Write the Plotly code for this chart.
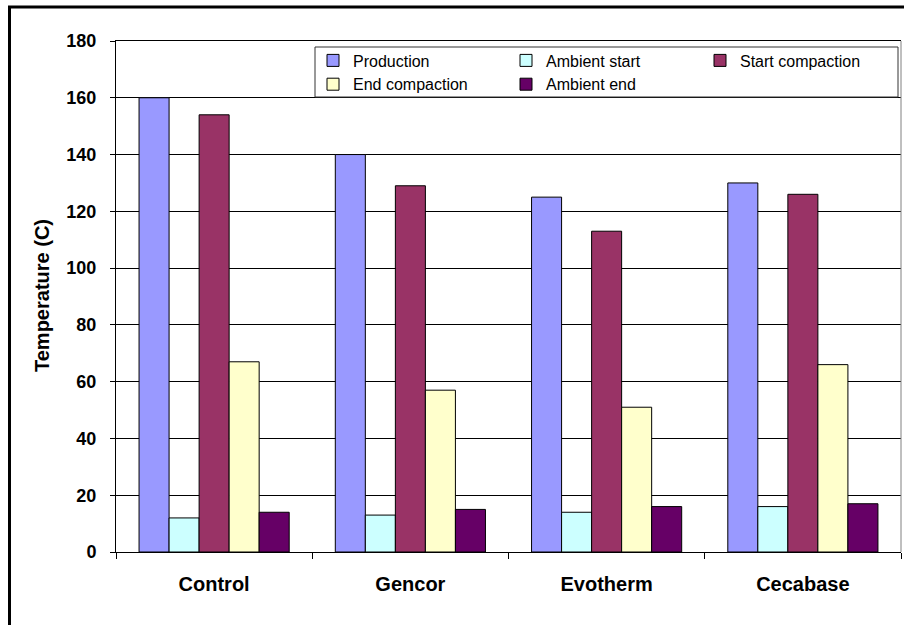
import plotly.graph_objects as go

categories = ["Control", "Gencor", "Evotherm", "Cecabase"]
series_names = ["Production", "Ambient start", "Start compaction", "End compaction", "Ambient end"]
production = [160, 140, 125, 130]
ambient_start = [12, 13, 14, 16]
start_compaction = [154, 129, 113, 126]
end_compaction = [67, 57, 51, 66]
ambient_end = [14, 15, 16, 17]
y_ticks = [0, 20, 40, 60, 80, 100, 120, 140, 160, 180]

series_values = [production, ambient_start, start_compaction, end_compaction, ambient_end]
colors = ["#9999FF", "#CCFFFF", "#993366", "#FFFFCC", "#660066"]
legend_ids = ["legend", "legend2", "legend3", "legend", "legend2"]

FONT = "Arial, Liberation Sans, sans-serif"

W, H = 904, 625
L, R, T, B = 116, 3, 41, 73
pw = W - L - R
ph = H - T - B


def px_x(p):
    return (p - L) / pw


def px_y(p):
    return 1 - (p - T) / ph


fig = go.Figure()
for name, vals, col, lg in zip(series_names, series_values, colors, legend_ids):
    fig.add_trace(go.Bar(
        x=categories, y=vals, name=name, legend=lg, legendgroup=name,
        marker=dict(color=col, line=dict(color="black", width=1)),
    ))

legend_font = dict(family=FONT, size=16, color="black")


def make_legend(px_left):
    return dict(
        orientation="v",
        x=px_x(px_left), xanchor="left",
        y=px_y(43.5), yanchor="top",
        borderwidth=0, bgcolor="rgba(0,0,0,0)",
        font=legend_font, itemwidth=30,
        tracegroupgap=8, traceorder="normal",
    )


fig.update_layout(
    width=W, height=H,
    margin=dict(l=L, r=R, t=T, b=B),
    paper_bgcolor="white", plot_bgcolor="white",
    barmode="group", bargap=0.235, bargroupgap=0,
    font=dict(family=FONT, color="black"),
    showlegend=True,
    legend=make_legend(313),
    legend2=make_legend(506),
    legend3=make_legend(700),
    xaxis=dict(
        type="category",
        showline=True, linecolor="black", linewidth=1, mirror=True,
        ticks="outside", ticklen=6, tickcolor="black", tickson="boundaries",
        showgrid=False,
        tickfont=dict(family=FONT, size=20, color="black", weight="bold"),
        ticklabelstandoff=14,
    ),
    yaxis=dict(
        range=[0, 180], tickvals=y_ticks,
        showline=True, linecolor="black", linewidth=1,
        ticks="outside", ticklen=5, tickcolor="black",
        showgrid=True, gridcolor="black", gridwidth=1,
        zeroline=False,
        tickfont=dict(family=FONT, size=18, color="black", weight="bold"),
        ticklabelstandoff=10,
    ),
    annotations=[dict(
        text="<b>Temperature (C)</b>", textangle=-90,
        xref="paper", yref="paper", x=px_x(42), y=px_y(296),
        showarrow=False, xanchor="center", yanchor="middle",
        font=dict(family=FONT, size=20, color="black"),
    )],
    shapes=[
        dict(type="line", xref="paper", yref="paper", x0=1, x1=1, y0=0, y1=1,
             line=dict(color="#808080", width=1)),
        dict(type="rect", xref="paper", yref="paper",
             x0=px_x(315), x1=px_x(898), y0=px_y(97), y1=px_y(47),
             line=dict(color="#333333", width=1), fillcolor="white", layer="above"),
        dict(type="rect", xref="paper", yref="paper",
             x0=px_x(9.5), x1=px_x(915), y0=px_y(640), y1=px_y(7),
             line=dict(color="black", width=3), fillcolor="rgba(0,0,0,0)", layer="above"),
    ],
)

fig.write_html("out.html", config={"displayModeBar": False},
               post_script="document.body.style.margin='0';")
